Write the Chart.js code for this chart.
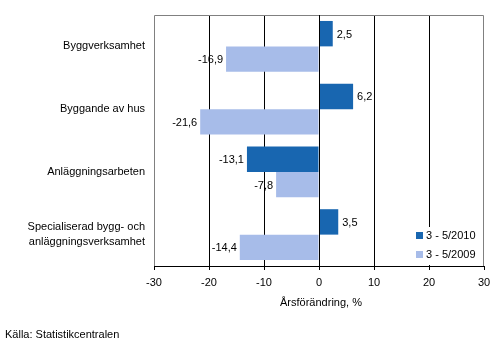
<!DOCTYPE html>
<html><head><meta charset="utf-8">
<script src="https://cdn.jsdelivr.net/npm/chart.js@4.4.0/dist/chart.umd.min.js"></script>
<style>html,body{margin:0;padding:0;background:#fff}#wrap{width:500px;height:355px}</style>
</head><body><div id="wrap"><canvas id="c" width="500" height="355"></canvas></div>
<script>
const categories = [["Byggverksamhet"], ["Byggande av hus"], ["Anläggningsarbeten"], ["Specialiserad bygg- och", "anläggningsverksamhet"]];
const series2010 = [2.5, 6.2, -13.1, 3.5];
const series2009 = [-16.9, -21.6, -7.8, -14.4];
const seriesNames = ["3 - 5/2010", "3 - 5/2009"];
const xTicks = [-30, -20, -10, 0, 10, 20, 30];
const axisTitle = "Årsförändring, %";
const sourceText = "Källa: Statistikcentralen";

const colors = ["#1866b0", "#a7bce9"];
const FONT = "Liberation Sans, Arial, sans-serif";

const fmt = v => v.toFixed(1).replace(".", ",");

const framePlugin = {
  id: "frame",
  beforeDatasetsDraw(chart) {
    const {ctx, chartArea: a} = chart;
    ctx.save();
    ctx.strokeStyle = "#808080";
    ctx.lineWidth = 1;
    ctx.beginPath();
    ctx.moveTo(a.left + 0.5, a.bottom);
    ctx.lineTo(a.left + 0.5, a.top + 0.5);
    ctx.lineTo(a.right - 0.5, a.top + 0.5);
    ctx.lineTo(a.right - 0.5, a.bottom);
    ctx.stroke();
    ctx.restore();
  },
  afterDatasetsDraw(chart) {
    const {ctx, chartArea: a} = chart;
    const x0 = Math.round(chart.scales.x.getPixelForValue(0)) + 0.5;
    ctx.save();
    ctx.strokeStyle = "#000";
    ctx.lineWidth = 1;
    ctx.beginPath();
    ctx.moveTo(x0, a.top);
    ctx.lineTo(x0, a.bottom);
    ctx.stroke();
    ctx.restore();
  },
  afterDraw(chart) {
    const {ctx, chartArea: a} = chart;
    ctx.save();
    ctx.font = "11px " + FONT;
    ctx.fillStyle = "#000";
    ctx.textBaseline = "middle";
    chart.data.datasets.forEach((ds, di) => {
      const meta = chart.getDatasetMeta(di);
      meta.data.forEach((bar, i) => {
        const v = ds.data[i];
        const t = fmt(v);
        if (v >= 0) { ctx.textAlign = "left"; ctx.fillText(t, bar.x + 4, bar.y + 1); }
        else { ctx.textAlign = "right"; ctx.fillText(t, bar.x - 3, bar.y + 1); }
      });
    });
    const lx = 412, ly = 227;
    ctx.fillStyle = "#fff";
    ctx.fillRect(lx, ly, a.right - 1 - lx, a.bottom - 1 - ly);
    seriesNames.forEach((n, i) => {
      const y = 236 + i * 19;
      ctx.fillStyle = colors[i];
      ctx.fillRect(416, y - 4, 7, 7);
      ctx.fillStyle = "#000";
      ctx.textAlign = "left";
      ctx.fillText(n, 426, y);
    });
    ctx.textAlign = "center";
    ctx.fillText(axisTitle, 321, 303);
    ctx.textAlign = "left";
    ctx.fillText(sourceText, 5, 335);
    ctx.restore();
  }
};

new Chart(document.getElementById("c"), {
  type: "bar",
  data: {
    labels: categories,
    datasets: [
      {label: seriesNames[0], data: series2010, backgroundColor: colors[0], categoryPercentage: 0.81, barPercentage: 1.0},
      {label: seriesNames[1], data: series2009, backgroundColor: colors[1], categoryPercentage: 0.81, barPercentage: 1.0}
    ]
  },
  options: {
    indexAxis: "y",
    responsive: false,
    animation: false,
    devicePixelRatio: 1,
    layout: {padding: {top: 15, right: 16, left: 0, bottom: 0}},
    plugins: {legend: {display: false}, tooltip: {enabled: false}},
    scales: {
      x: {
        min: -30, max: 30,
        afterBuildTicks: s => { s.ticks = xTicks.map(v => ({value: v})); },
        afterFit: s => { s.height = 89; s.paddingLeft = 0; s.paddingRight = 0; },
        grid: {
          color: c => (c.tick && Math.abs(c.tick.value) === 30) ? "rgba(0,0,0,0)" : "#000",
          tickColor: "#000",
          tickLength: 4,
          drawOnChartArea: true
        },
        border: {color: "#000", width: 1},
        ticks: {color: "#000", font: {family: FONT, size: 11}, padding: 6, maxRotation: 0,
          callback: v => String(v)}
      },
      y: {
        afterFit: s => { s.width = 154; s.paddingTop = 0; s.paddingBottom = 0; },
        grid: {display: false, drawTicks: false},
        border: {display: false},
        ticks: {color: "#000", font: {family: FONT, size: 11, lineHeight: 1.35}, padding: 9}
      }
    }
  },
  plugins: [framePlugin]
});
</script></body></html>
